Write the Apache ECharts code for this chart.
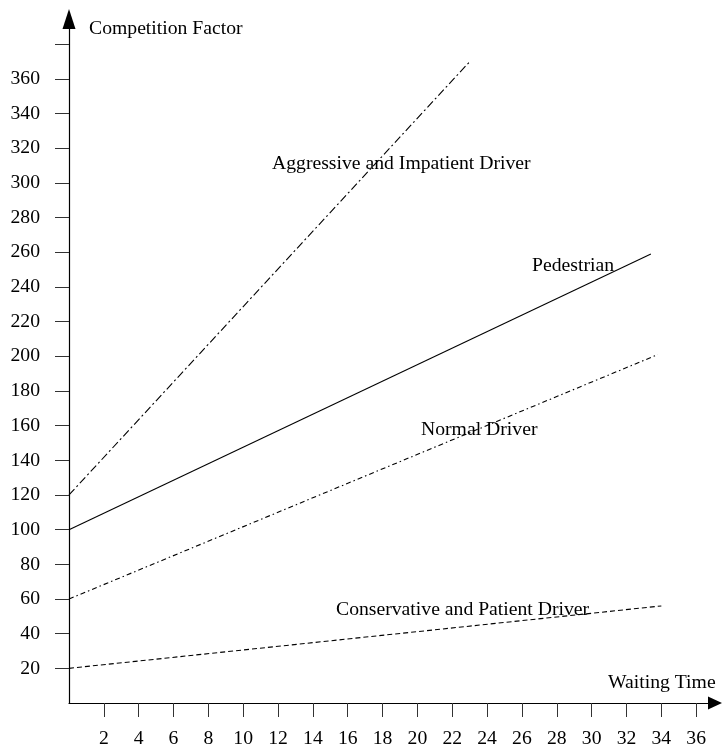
<!DOCTYPE html>
<html>
<head>
<meta charset="utf-8">
<script src="https://cdn.jsdelivr.net/npm/echarts@6/dist/echarts.min.js"></script>
<style>
  html, body { margin: 0; padding: 0; background: #fff; }
  #chart { width: 722px; height: 749px; }
</style>
</head>
<body>
<div id="chart"></div>
<script>
// tick values
const xTicks = [2, 4, 6, 8, 10, 12, 14, 16, 18, 20, 22, 24, 26, 28, 30, 32, 34, 36]
const yTicks = [20, 40, 60, 80, 100, 120, 140, 160, 180, 200, 220, 240, 260, 280, 300, 320, 340, 360, 380]
const yLabels = yTicks.filter(v => v <= 360)

// each line is given by its two end points [waiting time, competition factor]
const aggressive = [[0, 120], [23, 370]]
const pedestrian = [[0, 100], [33.4, 259]]
const normal = [[0, 60], [33.8, 201]]
const conservative = [[0, 20], [34, 56]]

const font = 'Liberation Serif, Times New Roman, serif'
const fontSize = 19.7

const chart = echarts.init(document.getElementById('chart'))

const lineSeries = (name, data, type) => ({
  name: name,
  type: 'line',
  data: data,
  symbol: 'none',
  silent: true,
  animation: false,
  lineStyle: { color: '#000', width: 1.1, type: type }
})

const label = (text, x, y) => ({
  type: 'text',
  x: x,
  y: y,
  silent: true,
  style: {
    text: text,
    fill: '#000',
    font: fontSize + 'px ' + font,
    verticalAlign: 'middle'
  }
})

chart.setOption({
  backgroundColor: '#fff',
  animation: false,
  // the arrow heads sit centred on the axis ends, so the axes stop a little short
  grid: { left: 69, right: 7, top: 19, bottom: 45, containLabel: false },
  xAxis: {
    type: 'value',
    min: 0,
    max: 37.08,
    splitLine: { show: false },
    axisLine: {
      onZero: false,
      symbol: ['none', 'triangle'],
      symbolSize: [13, 14],
      lineStyle: { color: '#000', width: 1.2 }
    },
    axisTick: {
      show: true,
      length: 14,
      customValues: xTicks,
      lineStyle: { color: '#333', width: 1 }
    },
    axisLabel: {
      customValues: xTicks,
      margin: 26,
      color: '#000',
      fontFamily: font,
      fontSize: fontSize
    }
  },
  yAxis: {
    type: 'value',
    min: 0,
    max: 394.6,
    splitLine: { show: false },
    axisLine: {
      onZero: false,
      symbol: ['none', 'triangle'],
      symbolSize: [13, 20],
      lineStyle: { color: '#000', width: 1.2 }
    },
    axisTick: {
      show: true,
      length: 14,
      customValues: yTicks,
      lineStyle: { color: '#333', width: 1 }
    },
    axisLabel: {
      customValues: yLabels,
      margin: 29,
      color: '#000',
      fontFamily: font,
      fontSize: fontSize
    }
  },
  series: [
    lineSeries('Aggressive and Impatient Driver', aggressive, [8, 3, 2, 3]),
    lineSeries('Pedestrian', pedestrian, 'solid'),
    lineSeries('Normal Driver', normal, [5, 3, 1.5, 3]),
    lineSeries('Conservative and Patient Driver', conservative, [5, 3])
  ],
  graphic: [
    label('Competition Factor', 89, 29),
    label('Aggressive and Impatient Driver', 272, 164),
    label('Pedestrian', 532, 266),
    label('Normal Driver', 421, 430),
    label('Conservative and Patient Driver', 336, 610),
    label('Waiting Time', 608, 683)
  ]
})
</script>
</body>
</html>
